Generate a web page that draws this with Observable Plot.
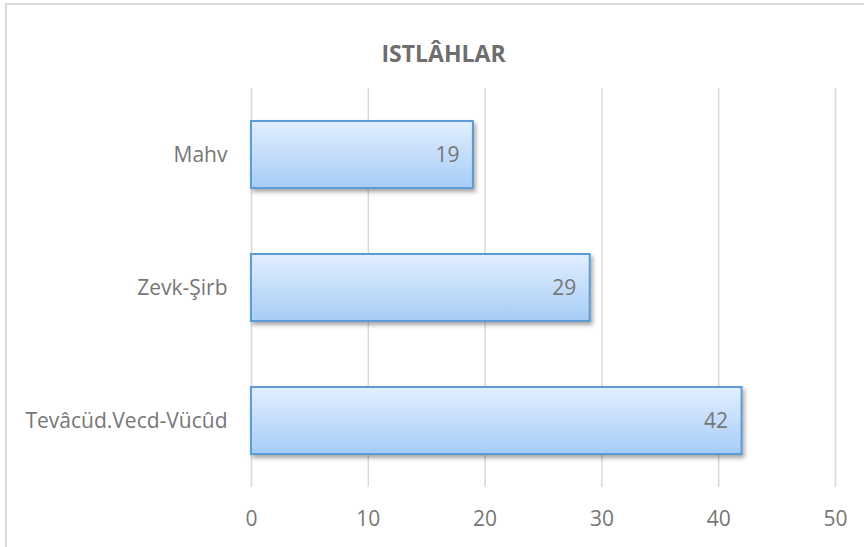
<!DOCTYPE html>
<html><head><meta charset="utf-8">
<script src="https://cdn.jsdelivr.net/npm/d3@7"></script>
<script src="https://cdn.jsdelivr.net/npm/@observablehq/plot@0.6"></script>
<style>
html,body{margin:0;padding:0;background:#fff;}
#wrap{position:relative;width:864px;height:547px;overflow:hidden;}
#frame{position:absolute;left:5px;top:3px;width:900px;height:600px;border-left:2px solid #d9d9d9;border-top:2px solid #d9d9d9;}
#chart{position:absolute;left:0;top:0;}
</style></head><body>
<div id="wrap"><div id="frame"></div><div id="chart"></div></div>
<script>
const title = "ISTLÂHLAR";
const categories = ["Mahv", "Zevk-Şirb", "Tevâcüd.Vecd-Vücûd"];
const values = [19, 29, 42];
const xTicks = [0, 10, 20, 30, 40, 50];

const data = categories.map((c, i) => ({category: c, value: values[i]}));

const plot = Plot.plot({
  width: 864, height: 547,
  marginLeft: 251, marginRight: 29, marginTop: 88, marginBottom: 60,
  style: {fontFamily: "'Open Sans', sans-serif", fontSize: "21px", color: "#767676", background: "transparent"},
  x: {domain: [0, 50], label: null},
  y: {domain: categories, paddingInner: 0.5, paddingOuter: 0.25, label: null},
  marks: [
    Plot.ruleX(xTicks, {stroke: "#d9d9d9", strokeWidth: 1.5}),
    Plot.axisX({ticks: xTicks, tickSize: 0, tickPadding: 24, fontSize: 21, fill: "#767676", label: null}),
    Plot.axisY({tickSize: 0, tickPadding: 24, fontSize: 21, fill: "#767676", label: null}),
    Plot.barX(data, {x: "value", y: "category", fill: "url(#barGrad)", stroke: "#5b9bd5", strokeWidth: 2}),
    Plot.text(data, {x: "value", y: "category", text: d => String(d.value), textAnchor: "end", dx: -14, fill: "#767676", fontSize: 21}),
    Plot.text([title], {frameAnchor: "top", dy: -43, dx: -100, fontWeight: "bold", fontSize: 23, fill: "#6e6e6e"})
  ]
});

const svg = d3.select(plot);
const defs = svg.insert("defs", ":first-child");
const grad = defs.append("linearGradient").attr("id", "barGrad")
  .attr("x1", 0).attr("y1", 0).attr("x2", 0).attr("y2", 1);
grad.append("stop").attr("offset", "0%").attr("stop-color", "#e2efff");
grad.append("stop").attr("offset", "100%").attr("stop-color", "#a6ccf6");
const f = defs.append("filter").attr("id", "shadow").attr("x", "-10%").attr("y", "-20%").attr("width", "130%").attr("height", "160%");
f.append("feDropShadow").attr("dx", 2).attr("dy", 3).attr("stdDeviation", 2)
  .attr("flood-color", "#000").attr("flood-opacity", 0.35);
svg.selectAll('g[aria-label="bar"]').attr("filter", "url(#shadow)");

document.getElementById("chart").appendChild(plot);
</script>
</body></html>
